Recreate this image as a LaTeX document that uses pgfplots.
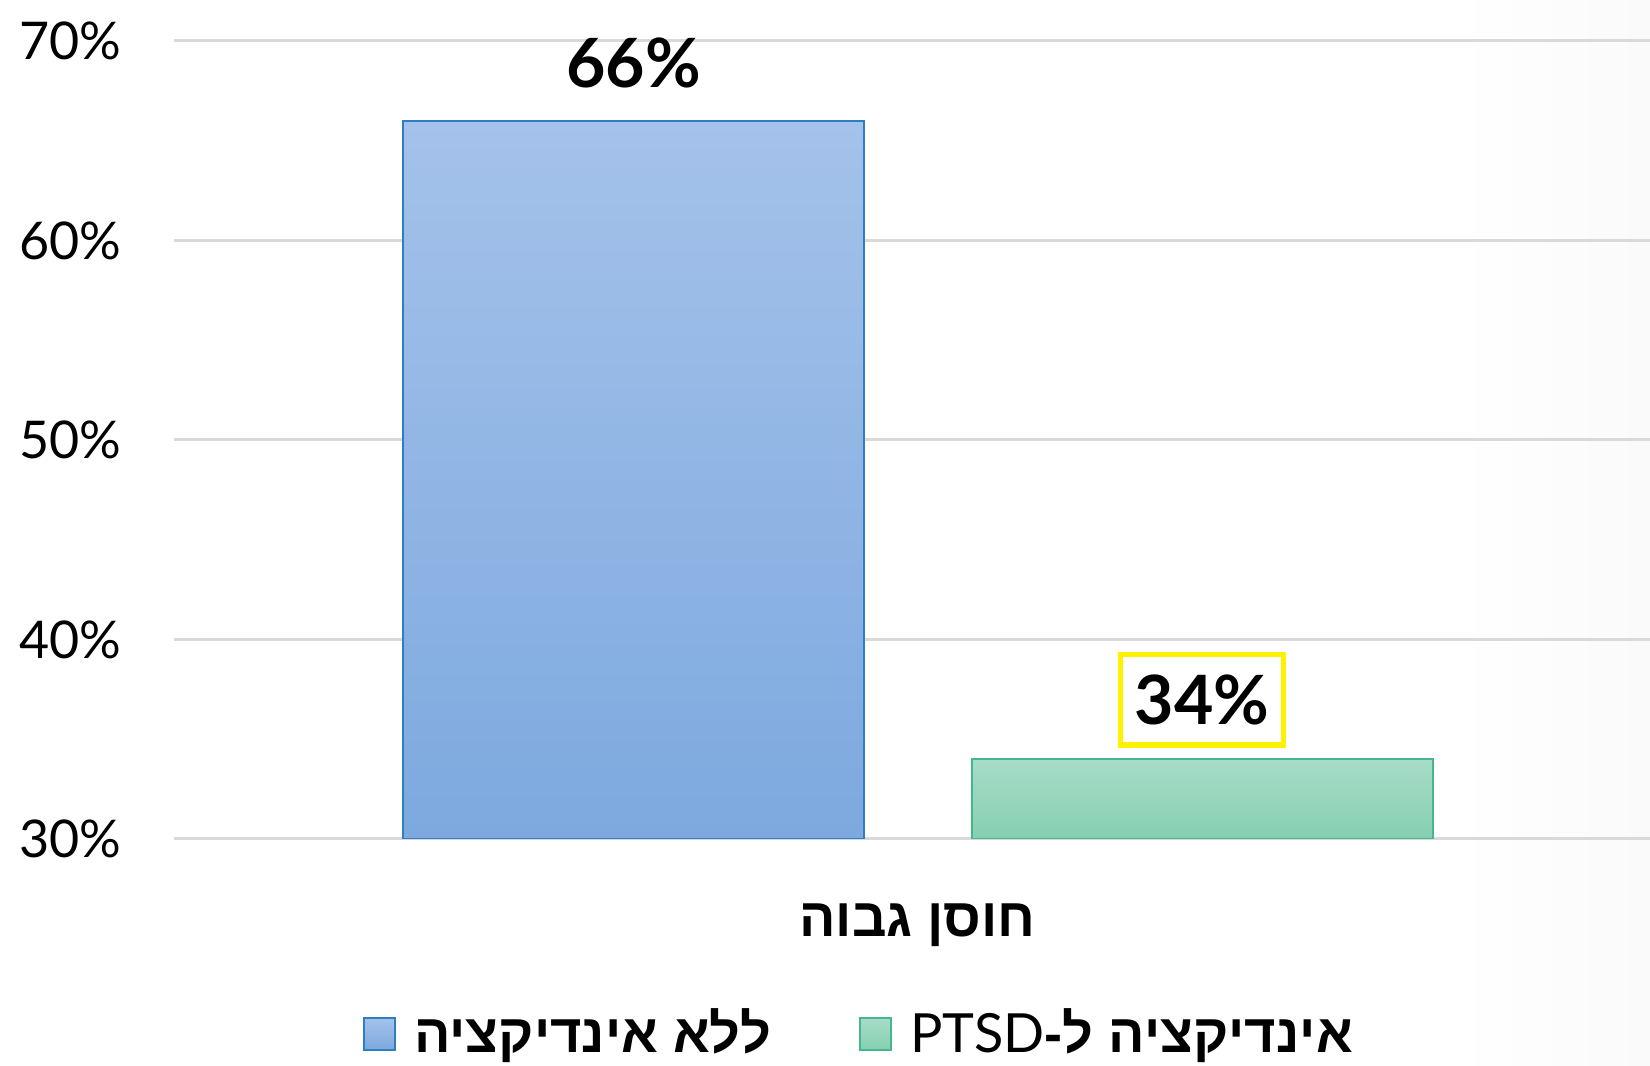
\documentclass[border=0pt]{standalone}
\usepackage{fontspec}
\usepackage{pgfplots}
\pgfplotsset{compat=1.18}
\setmainfont{Lato}
\newfontfamily\hebfont[Script=Hebrew]{Liberation Sans}
\TeXXeTstate=1

\definecolor{blueTop}{HTML}{A4C2EA}
\definecolor{blueBot}{HTML}{7DA9DF}
\definecolor{blueEdge}{HTML}{2E7EC2}
\definecolor{greenTop}{HTML}{A7DCC8}
\definecolor{greenBot}{HTML}{85CFB1}
\definecolor{greenEdge}{HTML}{45B68E}
\definecolor{gridgray}{HTML}{D9D9D9}

\begin{document}
\begin{tikzpicture}
% page = 1650 x 1066 px at 0.25pt per px
\path[use as bounding box, fill=white] (-43.5pt,-56.75pt) rectangle (369pt,209.75pt);
\shade[left color=white, right color=black!2] (320pt,-56.75pt) rectangle (369pt,209.75pt);
\begin{axis}[
    at={(0,0)}, anchor=south west,
    scale only axis,
    width=369pt, height=199.5pt,
    ybar,
    xmin=-743.5, xmax=732.5,
    ymin=30, ymax=70,
    ytick={30,40,50,60,70},
    yticklabel={\pgfmathprintnumber{\tick}\%},
    /pgf/number format/assume math mode=true,
    yticklabel style={font=\fontsize{13}{13}\selectfont, anchor=east, inner sep=0pt, xshift=-13pt},
    xtick={0},
    xticklabels={{\hebfont\bfseries\beginR חוסן גבוה\endR}},
    xticklabel style={font=\fontsize{13.5}{13.5}\selectfont, anchor=base, inner sep=0pt, yshift=-24.4pt},
    major tick length=0pt,
    axis line style={draw=none},
    ymajorgrids,
    grid style={color=gridgray, line width=0.75pt},
    point meta=y,
    nodes near coords={\pgfmathprintnumber{\pgfplotspointmeta}\%},
    nodes near coords style={font=\bfseries\fontsize{17}{17}\selectfont, text=black, anchor=south, inner xsep=3.5pt, inner ysep=5pt, yshift=2.9pt},
    legend columns=2,
    legend style={at={(axis description cs:0.466,-0.2444)}, anchor=center, draw=none, fill=none,
        font=\fontsize{13.5}{13.5}\selectfont,
        /tikz/every odd column/.append style={column sep=2.5pt},
        /tikz/every even column/.append style={column sep=20pt}},
    legend image code/.code={\draw[#1] (0pt,-3.9pt) rectangle (7.8pt,3.9pt);},
]
\addplot[bar shift=0pt, bar width=461, top color=blueTop, bottom color=blueBot, draw=blueEdge, line width=0.5pt]
    coordinates {(-284,66)};
\addlegendentry{\hebfont\bfseries\beginR ללא אינדיקציה\endR}
\addplot[bar shift=0pt, bar width=461, top color=greenTop, bottom color=greenBot, draw=greenEdge, line width=0.5pt,
    every node near coord/.append style={draw=yellow, line width=1.3pt}]
    coordinates {(284.5,34)};
\addlegendentry{\hebfont\beginR{\bfseries אינדיקציה ל-}\beginL\rmfamily PTSD\endL\endR}
\end{axis}
\end{tikzpicture}
\end{document}
